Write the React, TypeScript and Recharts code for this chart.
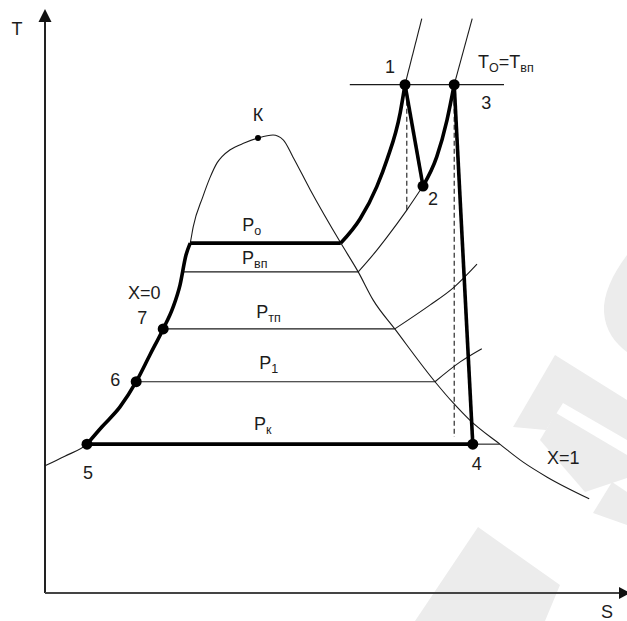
import React from "react";
import { ComposedChart, Line, Scatter, XAxis, YAxis, ReferenceDot } from "recharts";

// T–s diagram of a steam cycle with reheat and two regenerative extractions.
// Entropy S and temperature T are in arbitrary schematic units.

const S_MAX = 9.7;
const T_MAX = 9.68;

type Pt = { s: number; t: number };

// coordinate axes
const AXIS_T: Pt[] = [{ s: 0, t: 0 }, { s: 0, t: T_MAX }];
const AXIS_S: Pt[] = [{ s: 0, t: 0 }, { s: S_MAX, t: 0 }];

// saturation curve: x = 0 branch, critical point K, x = 1 branch
const DOME: Pt[] = [
  { s: 0.0, t: 2.12 }, { s: 0.33, t: 2.28 }, { s: 0.7, t: 2.48 }, { s: 0.95, t: 2.77 },
  { s: 1.25, t: 3.1 }, { s: 1.52, t: 3.52 }, { s: 1.75, t: 3.97 }, { s: 1.97, t: 4.4 },
  { s: 2.13, t: 4.75 }, { s: 2.25, t: 5.13 }, { s: 2.35, t: 5.63 }, { s: 2.42, t: 5.83 },
  { s: 2.47, t: 6.1 }, { s: 2.63, t: 6.6 }, { s: 2.75, t: 6.92 }, { s: 2.87, t: 7.17 },
  { s: 2.95, t: 7.27 }, { s: 3.08, t: 7.38 }, { s: 3.33, t: 7.5 }, { s: 3.55, t: 7.58 },
  { s: 3.8, t: 7.63 }, { s: 3.97, t: 7.55 }, { s: 4.13, t: 7.27 }, { s: 4.42, t: 6.72 },
  { s: 4.93, t: 5.83 }, { s: 5.22, t: 5.35 }, { s: 5.47, t: 4.88 }, { s: 5.83, t: 4.4 },
  { s: 6.5, t: 3.52 }, { s: 6.8, t: 3.17 }, { s: 7.08, t: 2.88 }, { s: 7.58, t: 2.48 },
  { s: 7.97, t: 2.18 }, { s: 8.37, t: 1.93 }, { s: 9.07, t: 1.57 },
];

// feed water heating 5 -> 6 -> 7 -> boiling
const LIQUID: Pt[] = [
  { s: 0.7, t: 2.48 }, { s: 0.95, t: 2.77 }, { s: 1.25, t: 3.1 }, { s: 1.52, t: 3.52 },
  { s: 1.75, t: 3.97 }, { s: 1.97, t: 4.4 }, { s: 2.13, t: 4.75 }, { s: 2.25, t: 5.13 },
  { s: 2.35, t: 5.63 }, { s: 2.42, t: 5.83 },
];

// isobars inside the wet region
const PO_WET: Pt[] = [{ s: 2.42, t: 5.83 }, { s: 4.93, t: 5.83 }];
const PVP_WET: Pt[] = [{ s: 2.3, t: 5.35 }, { s: 5.22, t: 5.35 }];
const PTP_WET: Pt[] = [{ s: 1.97, t: 4.4 }, { s: 5.83, t: 4.4 }];
const P1_WET: Pt[] = [{ s: 1.52, t: 3.52 }, { s: 6.5, t: 3.52 }];
const PK_WET: Pt[] = [{ s: 0.7, t: 2.48 }, { s: 7.13, t: 2.48 }];
const PK_TAIL: Pt[] = [{ s: 7.13, t: 2.48 }, { s: 7.58, t: 2.48 }];

// superheated region
const PO_SUPER: Pt[] = [
  { s: 4.93, t: 5.83 }, { s: 5.25, t: 6.23 }, { s: 5.53, t: 6.77 }, { s: 5.7, t: 7.22 },
  { s: 5.92, t: 8.0 }, { s: 6.0, t: 8.47 },
];
const PO_ABOVE: Pt[] = [{ s: 6.0, t: 8.47 }, { s: 6.28, t: 9.57 }];
const PVP_SUPER: Pt[] = [
  { s: 5.22, t: 5.35 }, { s: 5.48, t: 5.65 }, { s: 5.7, t: 5.93 }, { s: 6.03, t: 6.38 },
  { s: 6.3, t: 6.78 },
];
const REHEAT: Pt[] = [
  { s: 6.3, t: 6.78 }, { s: 6.53, t: 7.27 }, { s: 6.7, t: 7.88 }, { s: 6.82, t: 8.47 },
];
const PVP_ABOVE: Pt[] = [{ s: 6.82, t: 8.47 }, { s: 7.12, t: 9.57 }];
const PTP_SUPER: Pt[] = [
  { s: 5.83, t: 4.4 }, { s: 6.42, t: 4.8 }, { s: 6.8, t: 5.08 }, { s: 7.2, t: 5.48 },
];
const P1_SUPER: Pt[] = [{ s: 6.5, t: 3.52 }, { s: 6.92, t: 3.85 }, { s: 7.28, t: 4.07 }];

// expansion in the turbine
const HP_EXPANSION: Pt[] = [{ s: 6.0, t: 8.47 }, { s: 6.3, t: 6.78 }];
const LP_EXPANSION: Pt[] = [{ s: 6.82, t: 8.47 }, { s: 7.13, t: 2.48 }];
const TO_LINE: Pt[] = [{ s: 5.08, t: 8.47 }, { s: 7.65, t: 8.47 }];
const DASH_1: Pt[] = [{ s: 6.03, t: 8.47 }, { s: 6.03, t: 6.38 }];
const DASH_3: Pt[] = [{ s: 6.82, t: 8.47 }, { s: 6.82, t: 2.6 }];

// state points
const STATES = [
  { id: "1", s: 6.0, t: 8.47 },
  { id: "2", s: 6.3, t: 6.78 },
  { id: "3", s: 6.82, t: 8.47 },
  { id: "4", s: 7.13, t: 2.48 },
  { id: "5", s: 0.7, t: 2.48 },
  { id: "6", s: 1.52, t: 3.52 },
  { id: "7", s: 1.97, t: 4.4 },
];
const CRITICAL = [{ id: "К", s: 3.55, t: 7.58 }];

type Part = [string, boolean];
type Note = { id: string; s: number; t: number; parts: Part[] };

const NOTES: Note[] = [
  { id: "n1", s: 6.0, t: 8.47, parts: [["1", false]] },
  { id: "n2", s: 6.3, t: 6.78, parts: [["2", false]] },
  { id: "n3", s: 6.82, t: 8.47, parts: [["3", false]] },
  { id: "n4", s: 7.13, t: 2.48, parts: [["4", false]] },
  { id: "n5", s: 0.7, t: 2.48, parts: [["5", false]] },
  { id: "n6", s: 1.52, t: 3.52, parts: [["6", false]] },
  { id: "n7", s: 1.97, t: 4.4, parts: [["7", false]] },
  { id: "nK", s: 3.55, t: 7.58, parts: [["К", false]] },
  { id: "x0", s: 1.97, t: 4.4, parts: [["X=0", false]] },
  { id: "x1", s: 8.37, t: 1.93, parts: [["X=1", false]] },
  { id: "to", s: 7.65, t: 8.47, parts: [["T", false], ["O", true], ["=T", false], ["вп", true]] },
  { id: "po", s: 2.42, t: 5.83, parts: [["P", false], ["о", true]] },
  { id: "pvp", s: 2.3, t: 5.35, parts: [["P", false], ["вп", true]] },
  { id: "ptp", s: 1.97, t: 4.4, parts: [["P", false], ["тп", true]] },
  { id: "p1", s: 1.52, t: 3.52, parts: [["P", false], ["1", true]] },
  { id: "pk", s: 0.7, t: 2.48, parts: [["P", false], ["к", true]] },
  { id: "axT", s: 0, t: T_MAX, parts: [["T", false]] },
  { id: "axS", s: S_MAX, t: 0, parts: [["S", false]] },
];

// text offsets from the anchor point, px
const NOTE_LAYOUT: Record<string, { dx: number; dy: number; anchor: "start" | "middle" }> = {
  n1: { dx: -15, dy: -18, anchor: "middle" },
  n2: { dx: 10, dy: 13, anchor: "middle" },
  n3: { dx: 32, dy: 18, anchor: "middle" },
  n4: { dx: 4, dy: 19, anchor: "middle" },
  n5: { dx: 1, dy: 28, anchor: "middle" },
  n6: { dx: -21, dy: -2, anchor: "middle" },
  n7: { dx: -21, dy: -11, anchor: "middle" },
  nK: { dx: 0, dy: -23, anchor: "middle" },
  x0: { dx: -19, dy: -36, anchor: "middle" },
  x1: { dx: 16, dy: -20, anchor: "middle" },
  to: { dx: -26, dy: -23, anchor: "start" },
  po: { dx: 52, dy: -18, anchor: "start" },
  pvp: { dx: 59, dy: -14, anchor: "start" },
  ptp: { dx: 93, dy: -17, anchor: "start" },
  p1: { dx: 123, dy: -19, anchor: "start" },
  pk: { dx: 167, dy: -21, anchor: "start" },
  axT: { dx: -28, dy: 17, anchor: "middle" },
  axS: { dx: -20, dy: 19, anchor: "middle" },
};

const FONT = "'Liberation Sans', Arial, sans-serif";
const INK = "#1c1c1c";

function NoteShape(props: any) {
  const { cx, cy, payload } = props;
  const lay = NOTE_LAYOUT[payload.id];
  const parts: Part[] = payload.parts;
  let shift = 0;
  return (
    <text
      x={cx + lay.dx}
      y={cy + lay.dy + 6.4}
      textAnchor={lay.anchor}
      fontFamily={FONT}
      fontSize={18}
      fill={INK}
    >
      {parts.map(([txt, sub], i) => {
        const dy = sub ? 4 - shift : -shift;
        shift = sub ? 4 : 0;
        return (
          <tspan key={i} dy={dy} fontSize={sub ? 12.5 : 18}>
            {txt}
          </tspan>
        );
      })}
    </text>
  );
}

function StateDot(r: number) {
  return (props: any) => <circle cx={props.cx} cy={props.cy} r={r} fill="#000" />;
}

const UpArrow = (props: any) => (
  <polygon
    points={`${props.cx},${props.cy - 3} ${props.cx - 6.5},${props.cy + 10} ${props.cx + 6.5},${props.cy + 10}`}
    fill="#111"
  />
);
const RightArrow = (props: any) => (
  <polygon
    points={`${props.cx + 3},${props.cy} ${props.cx - 8},${props.cy - 6} ${props.cx - 8},${props.cy + 6}`}
    fill="#111"
  />
);

// faint publisher logo behind the diagram
function Logo() {
  return (
    <svg width={627} height={621} style={{ position: "absolute", left: 0, top: 0 }}>
      <g fill="#ececec">
        <path d="M627,255 C612,275 603,295 604,312 C605,330 615,343 627,352 Z" />
        <polygon points="513,427 555,355 627,400 627,440 563,403 546,430" />
        <polygon points="540,440 556,413 627,455 627,478 585,492" />
        <polygon points="593,513 612,482 627,492 627,525" />
        <polygon points="415,621 478,527 560,585 545,621" />
      </g>
    </svg>
  );
}

export default function App() {
  const thin = { stroke: "#1a1a1a", strokeWidth: 1.1, dot: false as const, isAnimationActive: false, dataKey: "t" };
  const thick = { stroke: "#000", strokeWidth: 3.6, dot: false as const, isAnimationActive: false, dataKey: "t" };
  return (
    <div style={{ position: "absolute", left: 0, top: 0, width: 627, height: 621, background: "#fff" }}>
      <Logo />
      <div style={{ position: "absolute", left: 0, top: 0 }}>
        <ComposedChart width={627} height={621} margin={{ top: 12, right: 0, bottom: 28, left: 45 }}>
          <XAxis type="number" dataKey="s" domain={[0, S_MAX]} hide />
          <YAxis type="number" dataKey="t" domain={[0, T_MAX]} hide />

          <Line data={AXIS_T} type="linear" {...thin} stroke="#222" strokeWidth={2} />
          <Line data={AXIS_S} type="linear" {...thin} stroke="#444" strokeWidth={2} />

          <Line data={DOME} type="monotone" {...thin} />
          <Line data={PVP_WET} type="linear" {...thin} />
          <Line data={PTP_WET} type="linear" {...thin} />
          <Line data={P1_WET} type="linear" {...thin} />
          <Line data={PK_TAIL} type="linear" {...thin} />
          <Line data={PO_ABOVE} type="linear" {...thin} />
          <Line data={PVP_SUPER} type="monotone" {...thin} />
          <Line data={PVP_ABOVE} type="linear" {...thin} />
          <Line data={PTP_SUPER} type="monotone" {...thin} />
          <Line data={P1_SUPER} type="monotone" {...thin} />
          <Line data={TO_LINE} type="linear" {...thin} />
          <Line data={DASH_1} type="linear" {...thin} strokeDasharray="5 3" />
          <Line data={DASH_3} type="linear" {...thin} strokeDasharray="5 3" />

          <Line data={LIQUID} type="monotone" {...thick} />
          <Line data={PO_WET} type="linear" {...thick} />
          <Line data={PK_WET} type="linear" {...thick} />
          <Line data={PO_SUPER} type="monotone" {...thick} />
          <Line data={HP_EXPANSION} type="linear" {...thick} />
          <Line data={REHEAT} type="monotone" {...thick} />
          <Line data={LP_EXPANSION} type="linear" {...thick} />

          <Scatter data={STATES} shape={StateDot(5.5)} isAnimationActive={false} />
          <Scatter data={CRITICAL} shape={StateDot(3)} isAnimationActive={false} />
          <Scatter data={NOTES} shape={NoteShape} isAnimationActive={false} />

          <ReferenceDot x={0} y={T_MAX} ifOverflow="visible" shape={UpArrow} />
          <ReferenceDot x={S_MAX} y={0} ifOverflow="visible" shape={RightArrow} />
        </ComposedChart>
      </div>
    </div>
  );
}
